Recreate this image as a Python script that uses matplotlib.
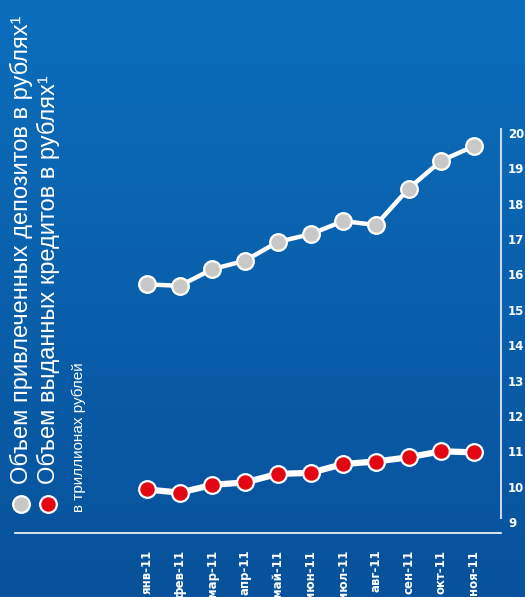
import numpy as np
import matplotlib
matplotlib.use("Agg")
from matplotlib import pyplot as plt
from matplotlib.colors import LinearSegmentedColormap

plt.rcParams['font.family'] = ['Liberation Sans', 'DejaVu Sans']

# данные, трлн руб.
months = ['янв-11', 'фев-11', 'мар-11', 'апр-11', 'май-11', 'июн-11',
          'июл-11', 'авг-11', 'сен-11', 'окт-11', 'ноя-11']
deposits = [15.72, 15.68, 16.15, 16.39, 16.92, 17.14, 17.51, 17.40, 18.43, 19.22, 19.63]
credits = [9.92, 9.83, 10.05, 10.12, 10.36, 10.39, 10.64, 10.71, 10.83, 11.00, 10.97]
yticks = list(range(9, 21))

label_dep = 'Объем привлеченных депозитов в рублях¹'
label_cred = 'Объем выданных кредитов в рублях¹'
units = 'в триллионах рублей'

W, H = 525, 597
fig = plt.figure(figsize=(W / 100, H / 100), dpi=100)

# фон - вертикальный градиент
bg = fig.add_axes([0, 0, 1, 1], zorder=0)
grad = np.linspace(0, 1, 256).reshape(-1, 1)
cmap = LinearSegmentedColormap.from_list('bg', ['#0b6ebc', '#08519b'])
bg.imshow(grad, aspect='auto', cmap=cmap, extent=[0, 1, 0, 1])
bg.axis('off')

# оси в пикселях: слева 15, справа 501, низ 533, верх 129
x0, x1, ytop, ybot = 15, 501, 129, 533
ax = fig.add_axes([x0 / W, 1 - ybot / H, (x1 - x0) / W, (ybot - ytop) / H], zorder=1)
ax.patch.set_alpha(0)

step = 32.7
ax.set_xlim((x0 - 147) / step, (x1 - 147) / step)
ppu = 35.36
ax.set_ylim(9 - (ybot - 522) / ppu, 9 + (522 - ytop) / ppu)

x = np.arange(len(months))
ax.plot(x, deposits, color='white', lw=3.2, marker='o', ms=12,
        mfc='#c8c8c8', mec='white', mew=1.6, zorder=3)
ax.plot(x, credits, color='white', lw=4.5, marker='o', ms=12,
        mfc='#e30613', mec='white', mew=1.6, zorder=3)

for s in ['top', 'left', 'right']:
    ax.spines[s].set_visible(False)
ax.spines['bottom'].set_color('white')
ax.spines['bottom'].set_linewidth(1.2)
ax.axvline(ax.get_xlim()[1], ymin=(ybot - 518) / (ybot - ytop), ymax=1,
           color='#c9d6e8', lw=1.5, clip_on=False)

ax.yaxis.tick_right()
ax.set_yticks(yticks)
ax.set_yticklabels([str(v) for v in yticks], fontsize=8.5, fontweight='bold',
                   color='white', family=['DejaVu Sans'])
ax.tick_params(axis='y', length=0, pad=5)

ax.set_xticks(x)
ax.set_xticklabels(months, rotation=90, fontsize=8.5, fontweight='bold',
                   color='white', family=['DejaVu Sans'])
ax.tick_params(axis='x', length=0, pad=12)

# легенда, повернутая на 90 градусов
fig.text(21 / W, 1 - 484 / H, label_dep, rotation=90, ha='center', va='bottom',
         color='white', fontsize=17)
fig.text(48 / W, 1 - 484 / H, label_cred, rotation=90, ha='center', va='bottom',
         color='white', fontsize=17)
fig.text(79 / W, 1 - 512 / H, units, rotation=90, ha='center', va='bottom',
         color='white', fontsize=11)
fig.add_artist(plt.Line2D([21 / W], [1 - 504 / H], marker='o', ms=12,
                          mfc='#c8c8c8', mec='white', mew=1.6))
fig.add_artist(plt.Line2D([48 / W], [1 - 504 / H], marker='o', ms=12,
                          mfc='#e30613', mec='white', mew=1.6))

fig.savefig('out.png', dpi=100)
